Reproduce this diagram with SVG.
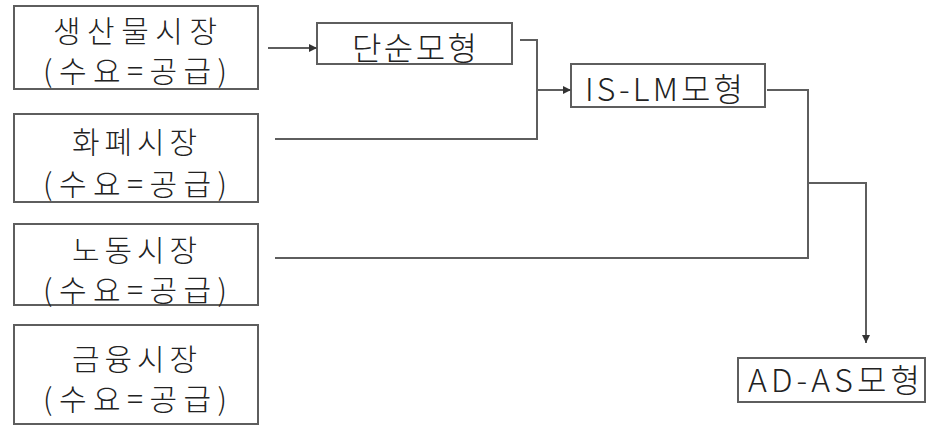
<svg xmlns="http://www.w3.org/2000/svg" width="927" height="425" viewBox="0 0 927 425">
<defs>
<marker id="ah" markerUnits="userSpaceOnUse" markerWidth="9" markerHeight="8" refX="8" refY="4" orient="auto">
<path d="M0,0 L8,4 L0,8 z" fill="#333"/>
</marker>
<style>
.box{fill:#fff;stroke:#5e5e5e;stroke-width:2}
.t{font-family:"Noto Sans CJK KR","Noto Sans",sans-serif;font-size:30px;fill:#222;font-weight:300}
.t2{font-family:"Noto Sans CJK KR","Noto Sans",sans-serif;font-size:32px;fill:#222;font-weight:300}
.c{fill:none;stroke:#5e5e5e;stroke-width:2}
</style>
</defs>
<rect width="927" height="425" fill="#fff"/>
<g id="n1">
<rect class="box" x="14" y="6" width="244" height="83"/>
<text class="t"><tspan x="53" y="42" textLength="164" lengthAdjust="spacing">생산물시장</tspan><tspan x="43" y="82" textLength="184" lengthAdjust="spacing">(수요=공급)</tspan></text>
</g>
<g id="n2">
<rect class="box" x="14" y="114" width="244" height="88"/>
<text class="t"><tspan x="72" y="153" textLength="125" lengthAdjust="spacing">화폐시장</tspan><tspan x="43" y="195" textLength="184" lengthAdjust="spacing">(수요=공급)</tspan></text>
</g>
<g id="n3">
<rect class="box" x="14" y="224" width="244" height="81"/>
<text class="t"><tspan x="72" y="261" textLength="125" lengthAdjust="spacing">노동시장</tspan><tspan x="43" y="301" textLength="184" lengthAdjust="spacing">(수요=공급)</tspan></text>
</g>
<g id="n4">
<rect class="box" x="14" y="325" width="244" height="99"/>
<text class="t"><tspan x="72" y="370" textLength="125" lengthAdjust="spacing">금융시장</tspan><tspan x="43" y="410" textLength="184" lengthAdjust="spacing">(수요=공급)</tspan></text>
</g>
<g id="n5">
<rect class="box" x="317" y="23" width="195" height="41"/>
<text class="t2" x="352" y="60" textLength="125" lengthAdjust="spacing">단순모형</text>
</g>
<g id="n6">
<rect class="box" x="571" y="64" width="194" height="43"/>
<text class="t2" x="585" y="101" textLength="158" lengthAdjust="spacing">IS-LM모형</text>
</g>
<g id="n7">
<rect class="box" x="738" y="358" width="187" height="44"/>
<text class="t2" x="748" y="392" textLength="172" lengthAdjust="spacing">AD-AS모형</text>
</g>
<g id="connectors">
<line class="c" x1="268" y1="48" x2="317" y2="48" marker-end="url(#ah)"/>
<polyline class="c" points="520,40 537,40 537,139 275,139"/>
<line class="c" x1="537" y1="90" x2="571" y2="90" marker-end="url(#ah)"/>
<polyline class="c" points="767,90 808,90 808,258 275,258"/>
<polyline class="c" points="808,183 866,183 866,343" marker-end="url(#ah)"/>
</g>
</svg>
